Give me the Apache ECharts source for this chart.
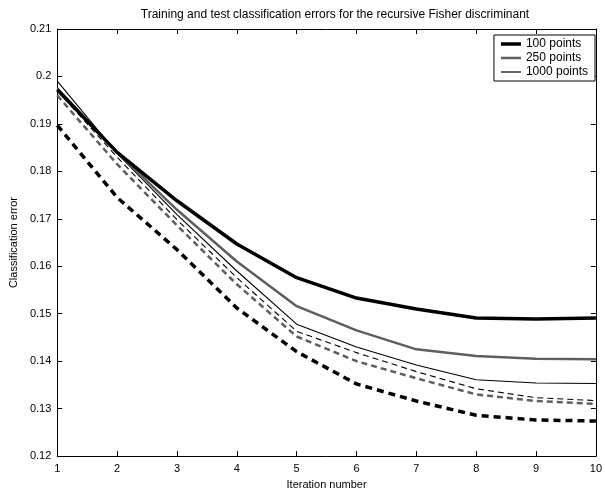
<!DOCTYPE html>
<html><head><meta charset="utf-8">
<script src="https://cdn.jsdelivr.net/npm/echarts@6/dist/echarts.min.js"></script>
<style>html,body{margin:0;padding:0;background:#fff;overflow:hidden}#c{width:605px;height:495px}</style>
</head><body><div id="c"></div>
<script>
const iterations = [1,2,3,4,5,6,7,8,9,10];
const train100  = [0.1972,0.1840,0.1738,0.1647,0.1576,0.1533,0.1510,0.1491,0.1489,0.1491];
const train250  = [0.1975,0.1840,0.1719,0.1610,0.1516,0.1465,0.1425,0.1411,0.1405,0.1404];
const train1000 = [0.1990,0.1838,0.1709,0.1590,0.1478,0.1430,0.1392,0.1361,0.1354,0.1353];
const test100   = [0.1897,0.1745,0.1635,0.1512,0.1420,0.1352,0.1316,0.1286,0.1276,0.1274];
const test250   = [0.1960,0.1815,0.1686,0.1562,0.1452,0.1400,0.1364,0.1330,0.1316,0.1310];
const test1000  = [0.1970,0.1830,0.1698,0.1576,0.1463,0.1418,0.1378,0.1342,0.1323,0.1317];
const legendNames = ['100 points','250 points','1000 points'];

const FONT = 'Liberation Sans, Arial, Helvetica, sans-serif';
const pairs = a => iterations.map((x,i)=>[x,a[i]]);
function ser(name, data, color, width, type, z){
  return {name, type:'line', data:pairs(data), symbol:'none', showSymbol:false, z,
    lineStyle:{color, width, type}, itemStyle:{color}, emphasis:{disabled:true}, silent:true};
}
// legend icon: a bar of given thickness centred in a 20x10 box
function barIcon(t){
  const y0 = (10 - t)/2;
  return 'path://M0,0 M20,10 M0,' + y0 + ' L20,' + y0 + ' L20,' + (y0+t) + ' L0,' + (y0+t) + ' Z';
}
const legendThick = [3.5, 2.5, 1.2];
const chart = echarts.init(document.getElementById('c'), null, {renderer:'canvas'});
const axisCommon = {
  axisLine:{show:true, lineStyle:{color:'#000', width:1}},
  axisTick:{show:true, inside:true, length:5, lineStyle:{color:'#000'}},
  splitLine:{show:false},
};
chart.setOption({
  animation:false,
  backgroundColor:'#fff',
  title:{text:'Training and test classification errors for the recursive Fisher discriminant',
    left:330, textAlign:'center', top:4,
    textStyle:{fontFamily:FONT, fontSize:12, fontWeight:'normal', color:'#000'}},
  legend:{data:legendNames.map((n,i)=>({name:n, icon:barIcon(legendThick[i])})),
    orient:'vertical', right:10, top:35,
    backgroundColor:'#fff', borderColor:'#000', borderWidth:1, borderRadius:0,
    padding:[3,7,3,7], itemGap:2, itemWidth:20, itemHeight:12,
    textStyle:{fontFamily:FONT, fontSize:12, color:'#000'}},
  grid:{left:51, right:4, top:29, bottom:31, containLabel:false},
  xAxis:[
    Object.assign({type:'value', min:1, max:10, interval:1, position:'bottom',
      name:'Iteration number', nameLocation:'middle', nameGap:20,
      nameTextStyle:{fontFamily:FONT, fontSize:11, color:'#000'},
      axisLabel:{fontFamily:FONT, fontSize:11, color:'#000', margin:7}}, axisCommon),
    Object.assign({type:'value', min:1, max:10, interval:1, position:'top',
      axisLabel:{show:false}}, axisCommon)
  ],
  yAxis:[
    Object.assign({type:'value', min:0.12, max:0.21, interval:0.01, position:'left',
      name:'Classification error', nameLocation:'middle', nameGap:33, nameRotate:90,
      nameTextStyle:{fontFamily:FONT, fontSize:11, color:'#000'},
      axisLabel:{fontFamily:FONT, fontSize:11, color:'#000', margin:6,
        formatter:v=>String(+(+v).toFixed(2))}}, axisCommon),
    Object.assign({type:'value', min:0.12, max:0.21, interval:0.01, position:'right',
      axisLabel:{show:false}}, axisCommon)
  ],
  series:[
    ser('100 points', train100, '#000', 3.5, 'solid', 6),
    ser('250 points', train250, '#5e5e5e', 2.5, 'solid', 5),
    ser('1000 points', train1000, '#000', 1.1, 'solid', 4),
    ser('test100', test100, '#000', 3.5, [7,5], 3),
    ser('test250', test250, '#5e5e5e', 2.5, [6,4], 2),
    ser('test1000', test1000, '#000', 1.1, [6,4], 1),
  ]
});
</script></body></html>
